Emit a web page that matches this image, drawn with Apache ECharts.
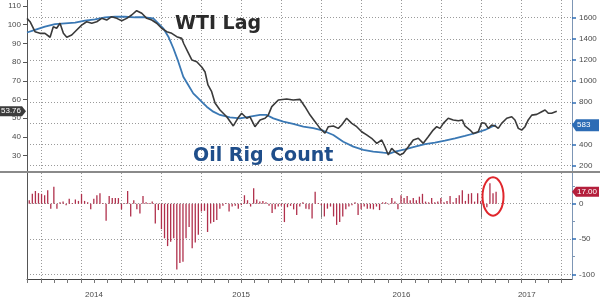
<!DOCTYPE html>
<html>
<head>
<meta charset="utf-8">
<script src="https://cdn.jsdelivr.net/npm/echarts@6/dist/echarts.min.js"></script>
<style>html,body{margin:0;padding:0;background:#fff}#c{width:600px;height:303px}</style>
</head>
<body>
<div id="c"></div>
<script>
// ---------- data ----------
// WTI (lagged), decimal-year positions and prices
const wtiYears = [
  2014.164,2014.183,2014.214,2014.245,2014.276,2014.308,2014.328,2014.349,2014.370,2014.391,
  2014.412,2014.443,2014.474,2014.505,2014.536,2014.568,2014.599,2014.630,2014.661,2014.692,
  2014.724,2014.755,2014.786,2014.817,2014.848,2014.880,2014.911,2014.942,2014.973,2015.004,
  2015.036,2015.067,2015.098,2015.129,2015.143,2015.168,2015.193,2015.223,2015.254,2015.275,
  2015.293,2015.316,2015.337,2015.368,2015.410,2015.451,2015.480,2015.503,2015.535,2015.555,
  2015.586,2015.618,2015.649,2015.669,2015.691,2015.732,2015.784,2015.825,2015.867,2015.898,
  2015.930,2015.961,2015.992,2016.023,2016.044,2016.075,2016.106,2016.127,2016.158,2016.190,
  2016.221,2016.252,2016.283,2016.314,2016.346,2016.377,2016.397,2016.418,2016.439,2016.460,
  2016.491,2016.512,2016.543,2016.574,2016.605,2016.636,2016.667,2016.698,2016.720,2016.741,
  2016.761,2016.792,2016.823,2016.855,2016.880,2016.896,2016.928,2016.948,2016.979,2017.001,
  2017.021,2017.042,2017.063,2017.084,2017.104,2017.125,2017.157,2017.188,2017.208,2017.229,
  2017.250,2017.271,2017.291,2017.313,2017.344,2017.375,2017.396,2017.416,2017.437,2017.469
];
const wtiValues = [
  103.4,101.6,96.3,95.4,95.4,93.3,98.9,98.1,100.8,95.4,
  93.3,94.5,97.2,99.8,101.6,100.8,101.6,103.4,102.5,104.3,
  103.4,102.1,103.4,105.2,107.5,106.1,103.4,102.5,100.8,98.1,
  96.3,95.4,93.6,92.7,89.7,85.4,81.1,80.2,77.4,74.7,
  67.8,64.2,58.2,54.4,50.8,45.9,50.1,52.7,50.0,50.8,
  45.5,49.1,50.0,51.7,56.2,59.8,60.3,59.8,60.1,56.2,
  51.7,48.2,44.6,42.0,45.5,45.9,44.6,46.4,50.0,47.3,
  45.5,42.8,41.1,39.3,36.6,38.4,34.8,30.4,33.9,32.1,
  30.4,31.3,34.8,38.4,39.3,36.6,40.1,43.7,45.5,44.6,
  47.3,50.0,49.1,48.7,49.1,45.9,43.7,41.9,42.8,47.6,
  47.3,44.6,46.4,45.9,44.6,47.3,50.0,50.8,49.1,44.6,
  43.7,45.5,49.1,51.7,52.1,53.5,54.4,52.7,52.7,53.76
];
// Oil rig count
const rigYears = [
  2014.164,2014.214,2014.276,2014.339,2014.401,2014.464,2014.526,2014.588,2014.651,2014.713,
  2014.775,2014.838,2014.900,2014.952,2014.983,2015.014,2015.046,2015.077,2015.108,2015.139,
  2015.170,2015.201,2015.233,2015.264,2015.285,2015.326,2015.368,2015.430,2015.493,2015.555,
  2015.618,2015.659,2015.701,2015.763,2015.825,2015.888,2015.950,2016.012,2016.075,2016.137,
  2016.200,2016.262,2016.324,2016.387,2016.429,2016.460,2016.522,2016.585,2016.647,2016.709,
  2016.771,2016.834,2016.896,2016.959,2017.021,2017.063,2017.090
];
const rigValues = [
  1460,1484,1515,1540,1547,1553,1572,1585,1604,1609,
  1609,1604,1604,1594,1547,1500,1420,1311,1184,1042,
  963,884,837,790,758,711,680,658,648,664,
  680,680,648,616,595,570,555,531,490,427,
  380,349,333,323,317,333,355,380,405,418,
  437,459,481,507,538,569,583
];
// Weekly change in oil rig count (Fridays, from 2014-03-07)
const barStartDate = '2014-03-07';
const barChanges = [
  5,14,18,15,14,12,19,-7,24,-7,
  2,3,-2,7,1,6,4,14,4,2,
  -8,7,12,15,1,-24,11,8,8,8,
  -8,1,18,-18,5,-8,-14,11,2,1,
  3,-28,-9,-36,-49,-60,-54,-49,-93,-84,
  -82,-49,-33,-63,-55,-44,-11,-10,-40,-28,
  -26,-23,-7,-3,1,-11,-4,-3,-7,-2,
  12,5,-4,22,6,3,4,2,-3,-13,
  -8,-4,-3,-26,-5,-3,-8,-16,-4,2,
  -7,-8,-21,17,1,-2,-18,-7,-4,-18,
  -30,-26,-18,-8,-4,-2,2,-16,-8,-4,
  -7,-7,-8,-4,-9,2,2,-1,8,3,
  -8,12,8,11,5,8,5,10,14,3,
  2,8,2,3,8,2,4,11,2,8,
  12,19,4,14,15,3,15,4,-2,-5,
  29,15,17
];
const yearLabels = [2014, 2015, 2016, 2017];
const leftTicks = [30,40,50,60,70,80,90,100,110];
const rightTicks = [200,400,600,800,1000,1200,1400,1600];
const lowerTicks = [-100,-50,0];
const lowerMinorTicks = [-75,-25,25];

// ---------- helpers ----------
function decYear(ms){
  const d = new Date(ms); const y = d.getUTCFullYear();
  const a = Date.UTC(y,0,1), b = Date.UTC(y+1,0,1);
  return y + (ms - a)/(b - a);
}
const startMs = Date.parse(barStartDate + 'T00:00:00Z');
const barData = barChanges.map((v,i)=>[decYear(startMs + i*7*86400000), v]);
const wtiData = wtiYears.map((x,i)=>[x, wtiValues[i]]);
const rigData = rigYears.map((x,i)=>[x, rigValues[i]]);

const X0 = 2014.164, X1 = 2017.564;
const quarterTicks = [], monthTicks = [];
for (let y = 2014; y <= 2017; y++) {
  for (let m = 0; m < 12; m++) {
    const v = y + m/12;
    if (v > X0 && v < X1) { monthTicks.push(v); if (m % 3 === 0) quarterTicks.push(v); }
  }
}
const yearSeps = yearLabels.filter(y => y > X0 && y < X1);
const yearLabelPos = yearLabels.map(y => (Math.max(y, X0) + Math.min(y+1, X1))/2);

const FONT = '"Liberation Sans", Arial, sans-serif';
const dotted = {type:[1,2], color:'#9a9a9a', width:1};
const lblStyle = {fontSize:8, color:'#4a4a4a', fontFamily:FONT};
const plain = (v)=>String(v);

const chart = echarts.init(document.getElementById('c'), null, {renderer:'canvas', width:600, height:303});

const baseX = {type:'value', min:X0, max:X1, axisLine:{show:false}, axisTick:{show:false}, axisLabel:{show:false}, splitLine:{show:false}};

const option = {
  animation:false,
  backgroundColor:'#fff',
  textStyle:{fontFamily:FONT},
  grid:[
    {left:27, right:28, top:0, height:172, outerBoundsMode:'none', containLabel:false},
    {left:27, right:28, top:173, height:106, outerBoundsMode:'none', containLabel:false}
  ],
  xAxis:[
    Object.assign({}, baseX, {gridIndex:0, position:'bottom', axisTick:{show:false, customValues:quarterTicks}, splitLine:{show:true, lineStyle:dotted}}),
    Object.assign({}, baseX, {gridIndex:1, position:'bottom', axisLine:{show:true, onZero:false, lineStyle:{color:'#444', width:1}},
      axisTick:{show:true, customValues:monthTicks, length:4, lineStyle:{color:'#777'}}}),
    Object.assign({}, baseX, {gridIndex:1, position:'bottom', axisTick:{show:false, customValues:quarterTicks}, splitLine:{show:true, lineStyle:dotted}}),
    Object.assign({}, baseX, {gridIndex:1, position:'bottom', axisLabel:Object.assign({show:true, customValues:yearLabelPos, margin:12,
      formatter:(v)=>String(Math.floor(v))}, lblStyle)}),
    Object.assign({}, baseX, {gridIndex:1, position:'bottom', offset:8, axisTick:{show:true, customValues:yearSeps, length:14, lineStyle:{color:'#777'}}})
  ],
  yAxis:[
    {gridIndex:0, type:'value', position:'left', min:21.29, max:113.21,
      axisLine:{show:true, lineStyle:{color:'#555'}},
      axisTick:{show:true, customValues:leftTicks, length:4, lineStyle:{color:'#555'}},
      axisLabel:Object.assign({customValues:leftTicks, margin:6, formatter:plain}, lblStyle),
      splitLine:{show:false}},
    {gridIndex:0, type:'value', position:'right', min:140.4, max:1767.4,
      axisLine:{show:true, lineStyle:{color:'#7d96b5'}},
      axisTick:{show:true, customValues:rightTicks, length:4, lineStyle:{color:'#2f6db5', width:1.5}},
      axisLabel:Object.assign({customValues:rightTicks, margin:7, formatter:plain}, lblStyle),
      splitLine:{show:true, lineStyle:dotted}},
    {gridIndex:1, type:'value', position:'right', min:-106.6, max:43.5,
      axisLine:{show:true, lineStyle:{color:'#7d96b5'}},
      axisTick:{show:true, customValues:lowerTicks, length:4, lineStyle:{color:'#2f6db5', width:1.5}},
      axisLabel:Object.assign({customValues:lowerTicks, margin:7, formatter:plain}, lblStyle),
      splitLine:{show:true, lineStyle:dotted}},
    {gridIndex:1, type:'value', position:'right', min:-106.6, max:43.5,
      axisLine:{show:false},
      axisTick:{show:true, customValues:lowerMinorTicks, length:3, lineStyle:{color:'#7d96b5'}},
      axisLabel:{show:false}, splitLine:{show:false}},
    {gridIndex:1, type:'value', position:'left', min:-106.6, max:43.5,
      axisLine:{show:true, lineStyle:{color:'#555'}},
      axisTick:{show:false}, axisLabel:{show:false}, splitLine:{show:false}}
  ],
  series:[
    {name:'Oil Rig Count', type:'line', xAxisIndex:0, yAxisIndex:1, data:rigData, showSymbol:false,
      lineStyle:{color:'#3a78b4', width:1.8}, z:3},
    {name:'WTI Lag', type:'line', xAxisIndex:0, yAxisIndex:0, data:wtiData, showSymbol:false,
      lineStyle:{color:'#3a3a3a', width:1.6}, z:4},
    {name:'Change', type:'bar', xAxisIndex:1, yAxisIndex:2, data:barData, barWidth:1.3,
      itemStyle:{color:'#b0304c'}}
  ]
};
chart.setOption(option);

// ---------- annotations tied to data ----------
const xL = chart.convertToPixel({xAxisIndex:0}, X0);
const xR = chart.convertToPixel({xAxisIndex:0}, X1);
const lastW = wtiValues[wtiValues.length-1];
const lastR = rigValues[rigValues.length-1];
const lastB = barChanges[barChanges.length-1];
const yW = chart.convertToPixel({yAxisIndex:0}, lastW);
const yR = chart.convertToPixel({yAxisIndex:1}, lastR);
const yB = chart.convertToPixel({yAxisIndex:2}, lastB);
const n = barData.length;
const ex = chart.convertToPixel({xAxisIndex:1}, barData[n-2][0]);
const eyTop = chart.convertToPixel({yAxisIndex:2}, Math.max(...barChanges.slice(n-3)));
const eyZero = chart.convertToPixel({yAxisIndex:2}, 0);

function rightTag(y, text, color, h){
  return [
    {type:'polygon', shape:{points:[[xR,y],[xR+4,y-h],[599,y-h],[599,y+h],[xR+4,y+h]]}, style:{fill:color}, z:100},
    {type:'text', x:xR+5, y:y, style:{text:text, fill:'#fff', font:'8px '+FONT, textAlign:'left', textVerticalAlign:'middle'}, z:101}
  ];
}

chart.setOption({
  graphic:[
    {type:'line', shape:{x1:0, y1:172, x2:600, y2:172}, style:{stroke:'#8a8a8a', lineWidth:2}, z:50},
    {type:'text', x:175, y:24, style:{text:'WTI Lag', fill:'#2b2b2b', font:'bold 19px "DejaVu Sans", Verdana, sans-serif', textVerticalAlign:'middle'}, z:60},
    {type:'text', x:193, y:156, style:{text:'Oil Rig Count', fill:'#1f4e8a', font:'bold 19px "DejaVu Sans", Verdana, sans-serif', textVerticalAlign:'middle'}, z:60},
    {type:'polygon', shape:{points:[[0,yW-5],[xL-5,yW-5],[xL-1,yW],[xL-5,yW+5],[0,yW+5]]}, style:{fill:'#3c3c3c'}, z:100},
    {type:'text', x:(xL-5)/2, y:yW, style:{text:lastW.toFixed(2), fill:'#fff', font:'8px '+FONT, textAlign:'center', textVerticalAlign:'middle'}, z:101},
    ...rightTag(yR, String(lastR), '#2d6cb5', 6),
    ...rightTag(yB, lastB.toFixed(2), '#b41f3c', 5),
    {type:'ellipse', shape:{cx:ex, cy:(eyTop+eyZero)/2 + 3, rx:10.5, ry:(eyZero-eyTop)/2 + 9}, style:{fill:'none', stroke:'#e0262c', lineWidth:2}, z:90}
  ]
});
</script>
</body>
</html>
